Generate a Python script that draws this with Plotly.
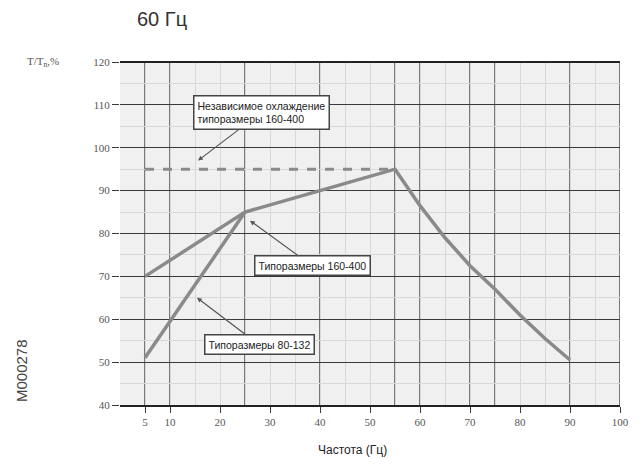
import plotly.graph_objects as go

# ---- data ----
freq_160_400 = [5, 25, 40, 55, 60, 65, 70, 75, 80, 85, 90]
torque_160_400 = [70, 85, 90, 95, 86.5, 79, 72.5, 67, 61, 55.5, 50.5]

freq_80_132 = [5, 25]
torque_80_132 = [51, 85]

freq_indep = [5, 55]
torque_indep = [95, 95]

x_tick_vals = [5, 10, 20, 30, 40, 50, 60, 70, 80, 90, 100]
x_tick_text = ["5", "10", "20", "30", "40", "50", "60", "70", "80", "90", "100"]
y_tick_vals = [40, 50, 60, 70, 80, 90, 100, 110, 120]

grid_x = [5, 10, 25, 40, 55, 60, 70, 75, 90, 100]

title_text = "60 Гц"
x_title = "Частота (Гц)"
y_title = "T/T<sub>n</sub>,%"
side_code = "M000278"

# callouts: (text, tip_x, tip_y, ax, ay)
callouts = [
    ("Независимое охлаждение<br>типоразмеры 160-400", 15.6, 97, 63, -48),
    ("Типоразмеры 160-400", 26, 83, 62, 45),
    ("Типоразмеры 80-132", 15.4, 65, 62, 47),
]

line_color = "#8a8a8a"
grid_color = "#3a3a3a"

OFF = 8  # page body margin
W, H = 641 - OFF, 465 - OFF
ML, MT = 120 - OFF, 62 - OFF
MR = W - (620 - OFF)
MB = H - (405 - OFF)

fig = go.Figure()

fig.add_trace(go.Scatter(x=freq_indep, y=torque_indep, mode="lines",
                         line=dict(color=line_color, width=3, dash="dash"),
                         showlegend=False, hoverinfo="skip"))
fig.add_trace(go.Scatter(x=freq_80_132, y=torque_80_132, mode="lines",
                         line=dict(color=line_color, width=3.5),
                         showlegend=False))
fig.add_trace(go.Scatter(x=freq_160_400, y=torque_160_400, mode="lines",
                         line=dict(color=line_color, width=3.5),
                         showlegend=False))

shapes = []
for gx in grid_x:
    shapes.append(dict(type="line", xref="x", yref="paper", x0=gx, x1=gx,
                       y0=0, y1=1, line=dict(color=grid_color, width=1.3),
                       layer="below"))
shapes.append(dict(type="line", xref="paper", yref="paper", x0=0, x1=1, y0=1, y1=1,
                   line=dict(color="#222222", width=2)))

annotations = []
font_call = dict(family="Liberation Sans, Arial, sans-serif", size=10.5, color="#222222")
for text, tx, ty, ax, ay in callouts:
    annotations.append(dict(
        x=tx, y=ty, xref="x", yref="y", text=text, showarrow=True,
        ax=ax, ay=ay, arrowhead=2, arrowsize=0.8, arrowwidth=1.2,
        arrowcolor="#555555", bgcolor="white", bordercolor="#444444",
        borderwidth=1.5, borderpad=3, align="left", font=font_call))

pw, ph = W - ML - MR, H - MT - MB
def px_to_paper(px, py):
    # px, py are screen coordinates
    return (px - OFF - ML) / pw, (H - MB - (py - OFF)) / ph

def add_text(text, px, py, size, color, family, angle=0):
    tx, ty = px_to_paper(px, py)
    annotations.append(dict(x=tx, y=ty, xref="paper", yref="paper", text=text,
                            showarrow=False, xanchor="center", yanchor="middle",
                            textangle=angle,
                            font=dict(family=family, size=size, color=color)))

add_text(title_text, 162, 19, 20, "#333333", "Liberation Sans, Arial, sans-serif")
add_text(y_title, 43, 62, 11, "#555555", "Liberation Serif, serif")
add_text(x_title, 352, 450, 12, "#222222", "Liberation Sans, Arial, sans-serif")
add_text(side_code, 21, 371, 15, "#444444", "Liberation Sans, Arial, sans-serif", -90)

fig.update_layout(
    width=W, height=H,
    margin=dict(l=ML, r=MR, t=MT, b=MB, autoexpand=False),
    paper_bgcolor="white",
    plot_bgcolor="#f0f0f0",
    shapes=shapes,
    annotations=annotations,
)

fig.update_xaxes(range=[0, 100], tickvals=x_tick_vals, ticktext=x_tick_text,
                 showgrid=False, zeroline=False, automargin=False,
                 ticks="outside", ticklen=6, tickcolor=grid_color, tickwidth=1,
                 showline=True, linecolor="#222222", linewidth=2, mirror=False,
                 tickfont=dict(family="Liberation Serif, serif", size=11, color="#555555"),
                 minor=dict(dtick=5, showgrid=True, gridcolor="#d8d8d8", gridwidth=1, tick0=0))
fig.update_yaxes(range=[40, 120], tickvals=y_tick_vals,
                 showgrid=True, gridcolor=grid_color, gridwidth=1.3, zeroline=False,
                 automargin=False,
                 ticks="outside", ticklen=7, tickcolor=grid_color, tickwidth=1,
                 showline=False,
                 tickfont=dict(family="Liberation Serif, serif", size=11, color="#555555"),
                 minor=dict(dtick=5, showgrid=True, gridcolor="#d8d8d8", gridwidth=1))

fig.write_html("out.html")
